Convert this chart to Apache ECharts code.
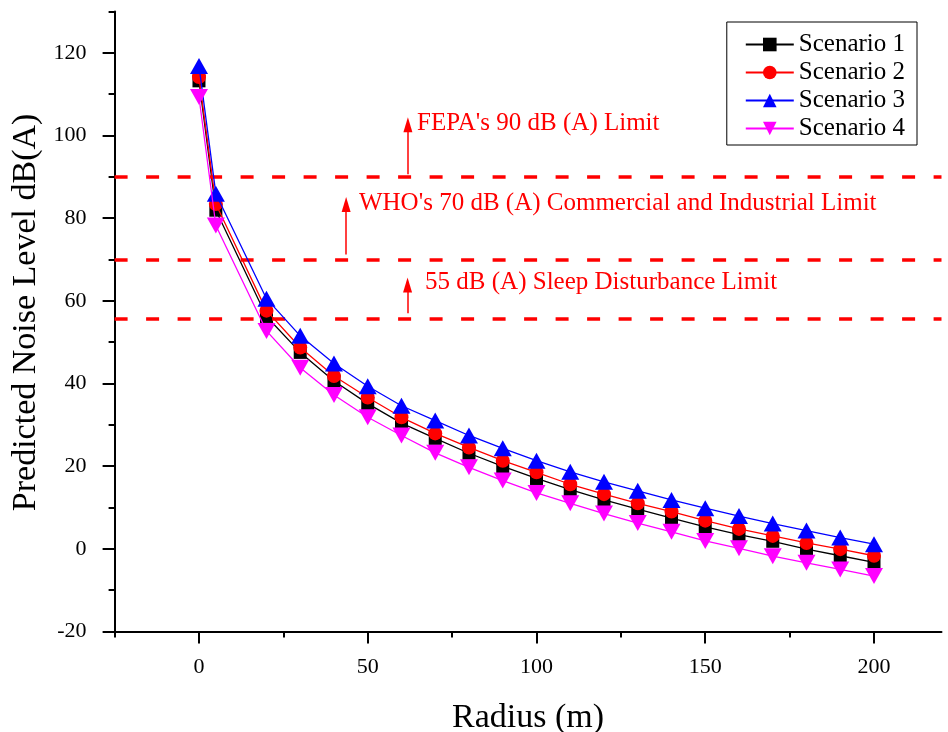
<!DOCTYPE html>
<html>
<head>
<meta charset="utf-8">
<script src="https://cdn.jsdelivr.net/npm/echarts@6/dist/echarts.min.js"></script>
<style>html,body{margin:0;padding:0;background:#fff}#c{width:948px;height:732px}</style>
</head>
<body>
<div id="c"></div>
<script>
// ---- data ----
var radius = [0, 5, 20, 30, 40, 50, 60, 70, 80, 90, 100, 110, 120, 130, 140, 150, 160, 170, 180, 190, 200];
var scenario1 = [113.2, 81.9, 56.2, 47.5, 40.6, 35.1, 30.4, 26.7, 23.1, 19.9, 17.0, 14.3, 11.8, 9.6, 7.4, 5.3, 3.4, 1.8, -0.1, -1.7, -3.3];
var scenario2 = [114.1, 83.4, 57.6, 48.7, 41.8, 36.6, 31.8, 27.9, 24.5, 21.3, 18.5, 15.6, 13.2, 11.0, 9.0, 6.8, 4.8, 3.1, 1.4, -0.1, -1.7];
var scenario3 = [116.8, 85.9, 60.5, 51.5, 44.8, 39.3, 34.6, 31.0, 27.4, 24.3, 21.3, 18.6, 16.2, 14.0, 11.8, 9.8, 7.9, 6.1, 4.4, 2.7, 1.1];
var scenario4 = [109.3, 78.2, 52.7, 43.8, 37.2, 31.8, 27.4, 23.2, 19.7, 16.5, 13.5, 11.0, 8.5, 6.2, 4.1, 1.9, 0.1, -1.8, -3.4, -5.0, -6.6];
var seriesNames = ['Scenario 1', 'Scenario 2', 'Scenario 3', 'Scenario 4'];

var xMajorTicks = [0, 50, 100, 150, 200];
var xMinorTicks = [-25, 25, 75, 125, 175];
var yMajorTicks = [-20, 0, 20, 40, 60, 80, 100, 120];
var yMinorTicks = [-10, 10, 30, 50, 70, 90, 110, 130];

var limitLevels = [90, 70, 55.6];
var limitTexts = ["FEPA's 90 dB (A) Limit", "WHO's 70 dB (A) Commercial and Industrial Limit", "55 dB (A) Sleep Disturbance Limit"];
var limitTextPos = [[64.6, 102.8], [47.4, 83.6], [67.0, 64.5]];
var arrowX = [61.9, 43.6, 61.8];
var arrowFrom = [90.6, 71.2, 57.0];
var arrowTo = [102.6, 83.3, 63.8];

// ---- chart ----
var FONT = "'Times New Roman','Liberation Serif',serif";
var chart = echarts.init(document.getElementById('c'), null, {renderer: 'canvas'});

function pairs(ys) { return radius.map(function (x, i) { return [x, ys[i]]; }); }

var colors = ['#000000', '#ff0000', '#0000ff', '#ff00ff'];
var symbols = ['rect', 'circle', 'triangle', 'path://M0,0 L20,0 L10,17.5 Z'];
var symSizes = [13, 14, [18, 16], [18, 16]];
var datas = [scenario1, scenario2, scenario3, scenario4];

var series = [];
series.push({
  type: 'line', name: 'annot', data: [], xAxisIndex: 0, yAxisIndex: 0, z: 1, silent: true,
  markLine: {
    silent: true, animation: false,
    symbol: ['none', 'none'],
    label: {show: false},
    lineStyle: {color: '#ff0000', width: 3.5, type: [13, 18.5]},
    data: limitLevels.map(function (v) { return {yAxis: v}; })
  }
});
series.push({
  type: 'line', name: 'arrows', data: [], xAxisIndex: 0, yAxisIndex: 0, z: 1, silent: true,
  markLine: {
    silent: true, animation: false,
    symbol: ['none', 'triangle'],
    symbolSize: [9, 15],
    label: {show: false},
    lineStyle: {color: '#ff0000', width: 1.5, type: 'solid'},
    data: arrowX.map(function (x, i) { return [{coord: [x, arrowFrom[i]]}, {coord: [x, arrowTo[i]]}]; })
  },
  markPoint: {
    silent: true, animation: false,
    symbol: 'circle', symbolSize: 0,
    label: {show: true, position: 'inside', align: 'left', verticalAlign: 'middle',
      color: '#ff0000', fontFamily: FONT, fontSize: 25,
      formatter: function (p) { return p.name; }},
    data: limitTexts.map(function (t, i) { return {name: t, coord: limitTextPos[i]}; })
  }
});
for (var i = 0; i < 4; i++) {
  series.push({
    type: 'line', name: seriesNames[i], data: pairs(datas[i]),
    xAxisIndex: 0, yAxisIndex: 0, z: 3 + i,
    symbol: symbols[i], symbolSize: symSizes[i], showSymbol: true,
    lineStyle: {color: colors[i], width: 1.3},
    itemStyle: {color: colors[i]},
    emphasis: {disabled: true}
  });
}

var option = {
  animation: false,
  backgroundColor: '#ffffff',
  grid: {left: 114.6, right: 6.5, top: 11.4, bottom: 100.6, containLabel: false, outerBoundsMode: 'none'},
  legend: {
    data: seriesNames,
    orient: 'vertical', right: 31, top: 22,
    itemWidth: 48, itemHeight: 17, itemGap: 3,
    borderColor: '#000', borderWidth: 1, padding: [10, 12, 4, 18],
    textStyle: {fontFamily: FONT, fontSize: 25, color: '#000'}
  },
  xAxis: [
    {type: 'value', min: -25, max: 220, interval: 25, position: 'bottom', offset: 0,
     axisLine: {show: true, onZero: false, lineStyle: {color: '#000', width: 2}},
     axisTick: {show: true, inside: false, length: 6, customValues: xMinorTicks, lineStyle: {color: '#000', width: 2}},
     axisLabel: {show: false}, splitLine: {show: false}},
    {type: 'value', min: -25, max: 220, interval: 25, position: 'bottom', offset: 0,
     axisLine: {show: false, onZero: false},
     axisTick: {show: true, inside: false, length: 12, customValues: xMajorTicks, lineStyle: {color: '#000', width: 2}},
     axisLabel: {show: true, customValues: xMajorTicks, margin: 25, color: '#000', fontFamily: FONT, fontSize: 22},
     splitLine: {show: false},
     name: 'Radius (m)', nameLocation: 'middle', nameGap: 70,
     nameTextStyle: {fontFamily: FONT, fontSize: 34, color: '#000'}}
  ],
  yAxis: [
    {type: 'value', min: -20, max: 130, interval: 10, position: 'left', offset: 0,
     axisLine: {show: true, onZero: false, lineStyle: {color: '#000', width: 2}},
     axisTick: {show: true, inside: false, length: 6, customValues: yMinorTicks, lineStyle: {color: '#000', width: 2}},
     axisLabel: {show: false}, splitLine: {show: false}},
    {type: 'value', min: -20, max: 130, interval: 10, position: 'left', offset: 0,
     axisLine: {show: false, onZero: false},
     axisTick: {show: true, inside: false, length: 12, customValues: yMajorTicks, lineStyle: {color: '#000', width: 2}},
     axisLabel: {show: true, customValues: yMajorTicks, margin: 28, color: '#000', fontFamily: FONT, fontSize: 22},
     splitLine: {show: false},
     name: 'Predicted Noise Level dB(A)', nameLocation: 'middle', nameGap: 62,
     nameTextStyle: {fontFamily: FONT, fontSize: 34, color: '#000', padding: [0, 0, 0, 18]}}
  ],
  series: series
};
chart.setOption(option);
</script>
</body>
</html>
